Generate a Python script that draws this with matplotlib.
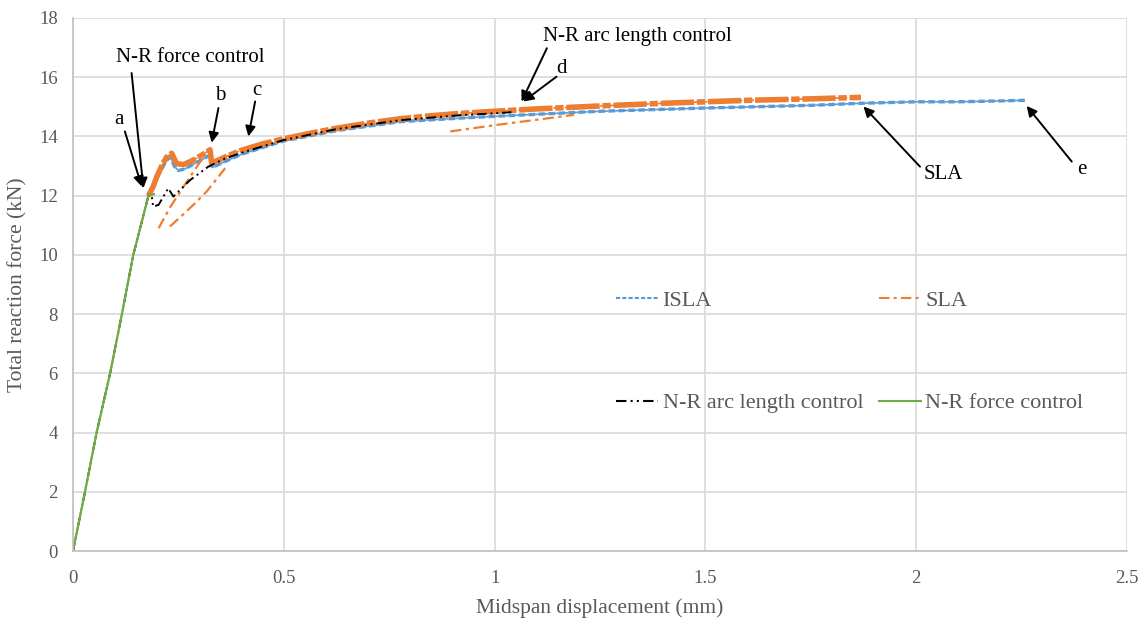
import matplotlib
matplotlib.use("Agg")
import matplotlib.pyplot as plt
from matplotlib.lines import Line2D

plt.rcParams["font.family"] = ["Liberation Serif", "DejaVu Serif"]

# N-R force control (elastic branch)
force_x = [0, 0.0285, 0.056, 0.088, 0.116, 0.143, 0.179, 0.192]
force_y = [0, 2.0, 4.0, 6.0, 8.0, 10.0, 12.0, 12.05]

# SLA main path
sla_x = [0, 0.0285, 0.056, 0.088, 0.116, 0.143, 0.179, 0.19, 0.199, 0.212, 0.222, 0.234,
         0.240, 0.246, 0.262, 0.278, 0.295, 0.309, 0.325, 0.329, 0.36, 0.397, 0.45, 0.5,
         0.56, 0.626, 0.7, 0.777, 0.85, 0.92, 1.0, 1.1, 1.25, 1.4, 1.5, 1.6, 1.75, 1.82, 1.869]
sla_y = [0, 2.0, 4.0, 6.0, 8.0, 10.0, 12.0, 12.3, 12.65, 13.05, 13.3, 13.43,
         13.25, 13.08, 13.05, 13.15, 13.28, 13.4, 13.55, 13.1, 13.3, 13.52, 13.75, 13.92,
         14.1, 14.28, 14.45, 14.6, 14.7, 14.78, 14.85, 14.93, 15.03, 15.12, 15.17, 15.22, 15.27, 15.3, 15.32]

# SLA unloading / reloading branches
sla_b1_x = [0.203, 0.23, 0.262, 0.29, 0.313]
sla_b1_y = [10.9, 11.6, 12.3, 12.9, 13.38]
sla_b2_x = [0.230, 0.26, 0.29, 0.317, 0.34, 0.361]
sla_b2_y = [10.96, 11.35, 11.75, 12.14, 12.55, 12.93]
sla_b3_x = [0.895, 1.005, 1.109, 1.188]
sla_b3_y = [14.17, 14.39, 14.58, 14.73]

# ISLA
isla_x = [0, 0.0285, 0.056, 0.088, 0.116, 0.143, 0.179, 0.199, 0.222, 0.232, 0.24, 0.25,
          0.265, 0.29, 0.31, 0.322, 0.33, 0.36, 0.4, 0.5, 0.626, 0.777, 0.92, 1.0, 1.25,
          1.5, 1.75, 1.869, 2.0, 2.1, 2.2, 2.258]
isla_y = [0, 2.0, 4.0, 6.0, 8.0, 10.0, 12.0, 12.6, 13.2, 13.3, 13.0, 12.85,
          12.9, 13.1, 13.25, 13.35, 12.95, 13.15, 13.4, 13.85, 14.2, 14.5, 14.62, 14.68, 14.85,
          14.96, 15.05, 15.12, 15.17, 15.17, 15.2, 15.22]

# N-R arc length control
arc_x = [0, 0.0285, 0.056, 0.088, 0.116, 0.143, 0.179, 0.187, 0.19, 0.203, 0.226, 0.238,
         0.278, 0.321, 0.36, 0.4, 0.5, 0.626, 0.777, 0.92, 1.0, 1.04]
arc_y = [0, 2.0, 4.0, 6.0, 8.0, 10.0, 12.0, 11.97, 11.63, 11.69, 12.25, 11.97,
         12.53, 12.98, 13.25, 13.45, 13.88, 14.25, 14.55, 14.72, 14.78, 14.82]

BLUE = "#5b9bd5"
ORANGE = "#ed7d31"
GREEN = "#70ad47"
GRAY = "#595959"

fig = plt.figure(figsize=(11.45, 6.22), dpi=100)
ax = fig.add_axes([73 / 1145, 1 - 551 / 622, 1054 / 1145, 533 / 622])

ax.plot(isla_x, isla_y, color=BLUE, lw=1.2, dashes=(2, 1))
ax.plot(isla_x[6:], isla_y[6:], color=BLUE, lw=2.4, dashes=(2, 1))
ax.plot(sla_x, sla_y, color=ORANGE, lw=1.2, dashes=(5, 2, 1.5, 2))
# the noisy post-peak response shows as a thick band
ax.plot(sla_x[6:], sla_y[6:], color=ORANGE, lw=4.0, dashes=(6, 0.5, 1.5, 0.5))
for bx, by in [(sla_b1_x, sla_b1_y), (sla_b2_x, sla_b2_y), (sla_b3_x, sla_b3_y)]:
    ax.plot(bx, by, color=ORANGE, lw=1.6, dashes=(5, 2, 1.5, 2))
ax.plot(arc_x, arc_y, color="black", lw=1.4, dashes=(5, 2, 1, 2, 1, 2))
ax.plot(force_x, force_y, color=GREEN, lw=1.6)

ax.set_xlim(0, 2.5)
ax.set_ylim(0, 18)
ax.set_xticks([0, 0.5, 1, 1.5, 2, 2.5])
ax.set_xticklabels(["0", "0.5", "1", "1.5", "2", "2.5"])
ax.set_yticks(range(0, 19, 2))
ax.grid(True, color="#d9d9d9", lw=1.2)
ax.set_axisbelow(True)
for side in ["top", "right"]:
    ax.spines[side].set_visible(False)
for side in ["left", "bottom"]:
    ax.spines[side].set_color("#bfbfbf")
    ax.spines[side].set_linewidth(1.2)
ax.tick_params(length=0, labelsize=13.5, colors=GRAY)
ax.tick_params(axis="x", pad=14)
ax.tick_params(axis="y", pad=11)
ax.set_xlabel("Midspan displacement (mm)", fontsize=15.5, color=GRAY, labelpad=8)
ax.set_ylabel("Total reaction force (kN)", fontsize=15.5, color=GRAY, labelpad=8)

# legend proxies in the chart's line styles
handles = [
    Line2D([], [], color=BLUE, lw=1.5, dashes=(2, 1), label="ISLA"),
    Line2D([], [], color="black", lw=1.5, dashes=(5, 2, 1, 2, 1, 2), label="N-R arc length control"),
    Line2D([], [], color=ORANGE, lw=1.5, dashes=(5, 2, 1.5, 2), label="SLA"),
    Line2D([], [], color=GREEN, lw=1.5, label="N-R force control"),
]
leg = ax.legend(handles=handles, ncol=2, loc="center", bbox_to_anchor=(0.737, 0.374),
                frameon=False, fontsize=16, labelspacing=3.7, columnspacing=0.7,
                handlelength=1.9, handletextpad=0.2)
for t in leg.get_texts():
    t.set_color(GRAY)

# callouts
labels = [
    ("N-R force control", 0.278, 16.66, (0.139, 16.14), (0.167, 12.25)),
    ("a", 0.110, 14.56, (0.123, 14.17), (0.163, 12.31)),
    ("b", 0.349, 15.37, (0.345, 14.96), (0.329, 13.79)),
    ("c", 0.436, 15.55, (0.432, 15.18), (0.416, 14.0)),
    ("N-R arc length control", 1.338, 17.36, (1.124, 16.98), (1.064, 15.18)),
    ("d", 1.159, 16.31, (1.147, 16.02), (1.068, 15.18)),
    ("SLA", 2.064, 12.70, (2.009, 12.98), (1.875, 15.01)),
    ("e", 2.393, 12.87, (2.369, 13.15), (2.262, 15.03)),
]
for text, tx, ty, start, tip in labels:
    ax.text(tx, ty, text, fontsize=15, ha="center", va="center", color="black")
    ax.annotate("", xy=tip, xytext=start,
                arrowprops=dict(arrowstyle="-|>", color="black", lw=1.4,
                                mutation_scale=15, shrinkA=0, shrinkB=0))

fig.savefig("out.png", dpi=100)
